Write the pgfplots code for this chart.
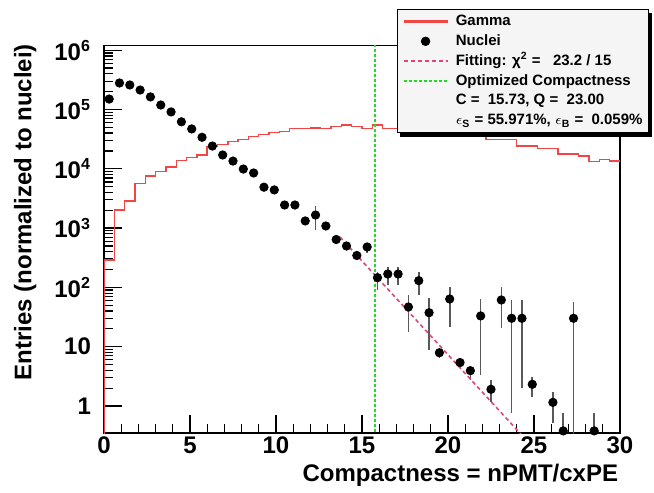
\documentclass[border=0pt]{standalone}
\usepackage{fontspec}
\setmainfont{Liberation Sans}
\usepackage{pgfplots}
\pgfplotsset{compat=1.18}
\definecolor{gammared}{RGB}{240,70,70}
\definecolor{fitpink}{RGB}{225,70,120}
\definecolor{optgreen}{RGB}{40,215,40}
\begin{document}
\begin{tikzpicture}
\begin{axis}[
  scale only axis, width=258pt, height=193.75pt,
  at={(0,0)}, anchor=south west,
  ymode=log, xmin=0, xmax=30, ymin=0.35, ymax=1.2e6,
  axis line style={line width=0.9pt},
  tick pos=left, tick align=inside,
  major tick length=9pt, minor tick length=4.5pt,
  every tick/.style={black, line width=0.6pt},
  xtick={0,5,...,30}, xticklabels={0,5,10,15,20,25,30}, minor x tick num=4,
  ytick={1,10,100,1000,10000,100000,1000000},
  yticklabels={1,10,10\textsuperscript{2},10\textsuperscript{3},10\textsuperscript{4},10\textsuperscript{5},10\textsuperscript{6}},
  every tick label/.append style={font=\fontsize{12}{14}\selectfont\bfseries},
  xticklabel style={yshift=1.5pt},
  yticklabel style={xshift=-3pt},
  xlabel={Compactness = nPMT/cxPE},
  ylabel={Entries (normalized to nuclei)},
  label style={font=\fontsize{12}{14}\selectfont\bfseries},
  xlabel style={at={(axis description cs:1.01,-0.124)}, anchor=base east},
  ylabel style={at={(axis description cs:-0.153,1.022)}, anchor=east},
  legend cell align=left,
  legend image code/.code={\draw[mark repeat=2,mark phase=2,#1] plot coordinates {(0pt,0pt) (11pt,0pt) (22pt,0pt)};},
  legend style={at={(rel axis cs:0.568,1.095)}, anchor=north west, name=leg,
    draw=black, line width=0.5pt, fill=gray!8,
    font=\fontsize{7.5}{9}\selectfont\bfseries,
    inner xsep=2.5pt, inner ysep=1.2pt, row sep=0pt,
    nodes={inner sep=0.6pt, text height=6.5pt, text depth=2.2pt},
    /tikz/every odd column/.append style={column sep=3pt}},
]
% Nuclei
\addplot[forget plot, only marks, mark=*, mark size=2.1pt, black,
  error bars/.cd, y dir=both, y explicit, error mark=none,
  error bar style={line width=0.8pt, black!65}]
coordinates {
(0.3,1.5e5) (0.9,2.8e5) (1.5,2.59e5) (2.1,2.13e5) (2.7,1.63e5) (3.3,1.19e5)
(3.9,9.1e4) (4.5,6.2e4) (5.1,4.7e4) (5.7,3.4e4) (6.3,2.42e4) (6.9,1.71e4)
(7.5,1.35e4) (8.1,9.9e3) (8.7,8.5e3) (9.3,4.9e3) (9.9,4.4e3) (10.5,2450)
(11.1,2450) (11.7,1320) (12.3,1660) +- (0,730) (12.9,1085) (13.5,642) (14.1,499)
(14.7,345) (15.3,480) += (0,80) -= (0,100)
(15.9,146) += (0,36) -= (0,56)
(16.5,168) += (0,53) -= (0,58)
(17.1,168) += (0,53) -= (0,58)
(17.7,46.7) += (0,27.8) -= (0,28.8)
(18.3,130) += (0,54) -= (0,55.5)
(18.9,37.4) += (0,28) -= (0,28.6)
(19.5,7.9) += (0,1.5) -= (0,1.5)
(20.1,63.7) += (0,36) -= (0,42)
(20.7,5.4) += (0,1) -= (0,1)
(21.3,3.94) += (0,0.7) -= (0,1.2)
(21.9,33) += (0,30) -= (0,29.7)
(22.5,1.91) += (0,0.83) -= (0,0.73)
(23.1,61.3) += (0,39) -= (0,41)
(23.7,30.1) += (0,31) -= (0,29.35)
(24.3,30.1) += (0,31) -= (0,28.1)
(24.9,2.32) += (0,0.8) -= (0,0.88)
(26.1,1.15) += (0,0.59) -= (0,0.64)
(26.7,0.38) += (0,0.373) -= (0,0.3)
(27.3,30.1) += (0,27.3) -= (0,29.9)
(28.5,0.38) += (0,0.373) -= (0,0.3)
};
% Gamma
\addplot[forget plot, const plot, draw=gammared, line width=0.7pt] coordinates {
(0,0.1) (0,290) (0.6,2020) (1.2,2860) (1.8,5690) (2.4,7560) (3.0,8940)
(3.6,10800) (4.2,13700) (4.8,15600) (5.4,17100) (6.0,24000) (6.6,25900)
(7.2,28600) (7.8,31400) (8.4,34800) (9.0,37600) (9.6,40600) (10.2,42200)
(10.8,48200) (11.4,48000) (12.0,48500) (12.6,48200) (13.2,51300) (13.8,54800)
(14.4,51300) (15.0,48200) (15.6,54800) (16.2,48200) (16.8,48200) (17.4,48000)
(18.0,48200) (18.6,45100) (19.2,45100) (19.8,39700) (20.4,39700) (21.0,37200)
(21.6,37200) (22.2,31400) (22.8,31400) (23.4,31400) (24.0,24200) (24.6,24200)
(25.2,22200) (25.8,22200) (26.4,17800) (27.0,17800) (27.6,16500) (28.2,13200)
(28.8,14500) (29.4,13500) (30,13500)
};
% Fit
\addplot[forget plot, draw=fitpink, line width=0.8pt, dash pattern=on 2pt off 1.5pt] coordinates {
(13.72,708) (24.3,0.32)
};
% Optimized compactness
\addplot[forget plot, draw=optgreen, line width=1pt, dash pattern=on 1.5pt off 1pt] coordinates {
(15.73,0.3) (15.73,1.3e6)
};
\addlegendimage{legend image code/.code={\fill[draw=none, fill={rgb,255:red,240;green,70;blue,70}] (0pt,-0.55pt) rectangle (22pt,0.55pt);}}
\addlegendentry{Gamma}
\addlegendimage{only marks, mark=*, mark size=2.1pt, draw=black, fill=black}
\addlegendentry{Nuclei}
\addlegendimage{draw=fitpink, line width=0.8pt, dash pattern=on 2pt off 1.5pt}
\addlegendentry{Fitting: χ\textsuperscript{2} =\ \ \ 23.2 / 15}
\addlegendimage{draw=optgreen, line width=1pt, dash pattern=on 1.5pt off 1pt}
\addlegendentry{Optimized Compactness}
\addlegendimage{empty legend}
\addlegendentry{C =\ \ 15.73, Q =\ \ 23.00}
\addlegendimage{empty legend}
\addlegendentry{$\epsilon$\textsubscript{S} = 55.971\%, $\epsilon$\textsubscript{B} =\ \ 0.059\%}
\end{axis}
\fill[black] ([xshift=1.5pt,yshift=-2pt]leg.south west) rectangle ([xshift=1.5pt]leg.south east);
\fill[black] ([yshift=-2pt]leg.north east) rectangle ([xshift=1.5pt,yshift=-2pt]leg.south east);
\path (-52pt,-28.5pt) rectangle (275pt,216.5pt);
\end{tikzpicture}
\end{document}
